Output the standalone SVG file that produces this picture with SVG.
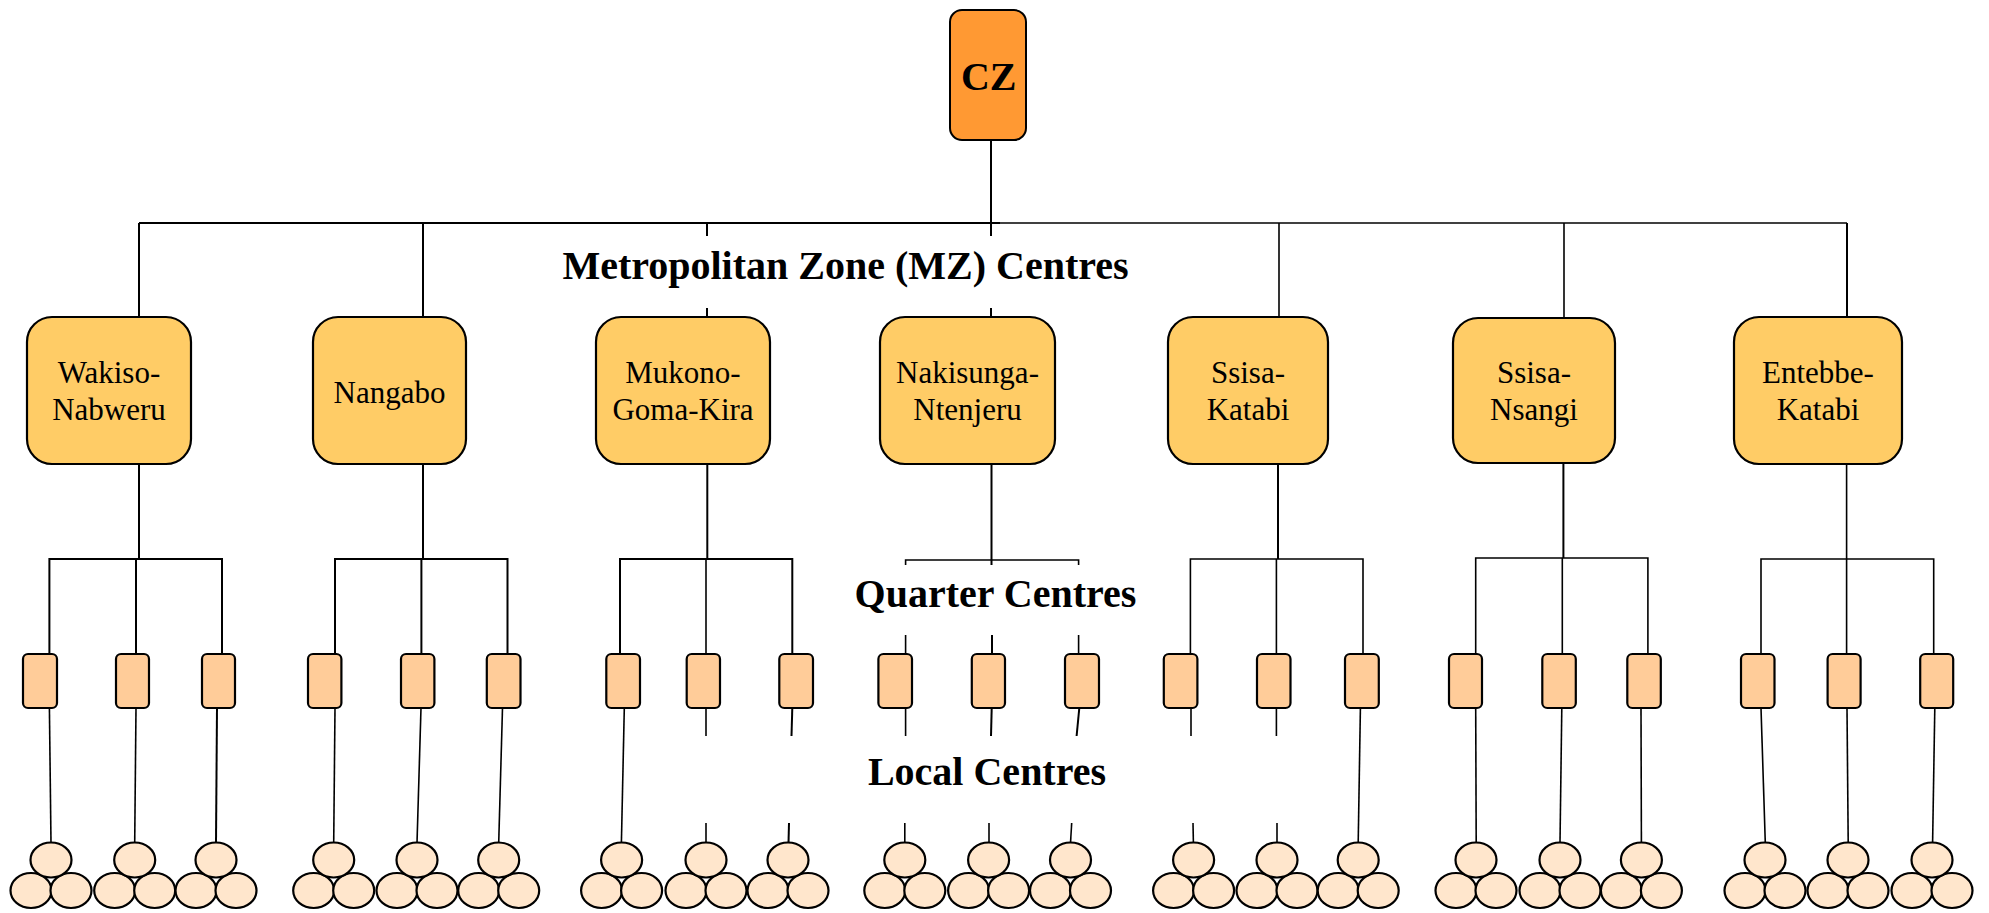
<svg xmlns="http://www.w3.org/2000/svg" width="1989" height="913" viewBox="0 0 1989 913">
<style>
.ln{stroke:#000;stroke-width:2;fill:none}
.lt{stroke:#000;stroke-width:1.6;fill:none}
.mz{fill:#FFCC66;stroke:#000;stroke-width:2.2}
.qc{fill:#FFCC99;stroke:#000;stroke-width:2.2}
.lc{fill:#FFE6CC;stroke:#000;stroke-width:2.2}
.cz{fill:#FF9933;stroke:#000;stroke-width:2}
.t{font-family:"Liberation Serif","Times New Roman",serif;font-size:31px;fill:#000;text-anchor:middle}
.h{font-family:"Liberation Serif","Times New Roman",serif;font-size:40px;font-weight:bold;fill:#000;text-anchor:middle}
</style>
<defs>
<g id="loc">
<ellipse class="lc" cx="-20" cy="890.5" rx="20.5" ry="17.5"/>
<ellipse class="lc" cx="20" cy="890.5" rx="20.5" ry="17.5"/>
<ellipse class="lc" cx="0" cy="860" rx="20.5" ry="17.5"/>
</g>
</defs>
<rect width="1989" height="913" fill="#fff"/>

<g id="connectors">
<!-- CZ to MZ -->
<line class="ln" x1="991" y1="130" x2="991" y2="236" stroke-width="2.6"/>
<line class="ln" x1="139" y1="223" x2="1000" y2="223" stroke-width="2.4"/>
<line class="lt" x1="1000" y1="223" x2="1847" y2="223"/>
<line class="ln" x1="139" y1="223" x2="139" y2="317"/>
<line class="ln" x1="423" y1="223" x2="423" y2="317"/>
<line class="ln" x1="707" y1="223" x2="707" y2="236"/>
<line class="ln" x1="707" y1="308" x2="707" y2="317"/>
<line class="ln" x1="991" y1="308" x2="991" y2="317"/>
<line class="lt" x1="1279" y1="223" x2="1279" y2="317"/>
<line class="lt" x1="1564" y1="223" x2="1564" y2="318"/>
<line class="ln" x1="1847" y1="223" x2="1847" y2="317"/>

<!-- Wakiso -->
<line class="ln" x1="139" y1="464" x2="139" y2="559"/>
<polyline class="ln" points="49.4,654 49.4,559 222,559 222,654"/>
<line class="ln" x1="136" y1="559" x2="136" y2="654"/>
<line class="lt" x1="49.4" y1="708" x2="51" y2="843"/>
<line class="lt" x1="136" y1="708" x2="134.7" y2="843"/>
<line class="ln" x1="217" y1="708" x2="216" y2="843"/>

<!-- Nangabo -->
<line class="ln" x1="423" y1="464" x2="423" y2="559"/>
<polyline class="ln" points="335,654 335,559 507.5,559 507.5,654"/>
<line class="ln" x1="421.4" y1="559" x2="421.4" y2="654"/>
<line class="lt" x1="335" y1="708" x2="333.7" y2="843"/>
<line class="lt" x1="421" y1="708" x2="417" y2="843"/>
<line class="lt" x1="502.5" y1="708" x2="498.7" y2="843"/>

<!-- Mukono -->
<line class="ln" x1="707.3" y1="464" x2="707.3" y2="559"/>
<polyline class="ln" points="620,654 620,559 792.3,559 792.3,654"/>
<line class="lt" x1="706" y1="559" x2="706" y2="654"/>
<line class="lt" x1="624.3" y1="708" x2="621.4" y2="843"/>
<line class="lt" x1="706" y1="708" x2="706" y2="736"/>
<line class="lt" x1="706" y1="823" x2="706" y2="843"/>
<line class="ln" x1="792.3" y1="708" x2="791.5" y2="736"/>
<line class="ln" x1="789" y1="823" x2="788.5" y2="843"/>

<!-- Nakisunga -->
<line class="ln" x1="991.5" y1="464" x2="991.5" y2="565" stroke-width="2.6"/>
<polyline class="lt" points="905.6,565 905.6,560 1078.6,560 1078.6,565"/>
<line class="lt" x1="905.6" y1="635" x2="905.6" y2="654"/>
<line class="ln" x1="992" y1="635" x2="992" y2="654"/>
<line class="lt" x1="1078.6" y1="635" x2="1078.6" y2="654"/>
<line class="lt" x1="905.6" y1="708" x2="905.6" y2="736"/>
<line class="ln" x1="991.7" y1="708" x2="991" y2="736"/>
<line class="ln" x1="1079.3" y1="708" x2="1076.6" y2="736"/>
<line class="lt" x1="904.8" y1="823" x2="904.8" y2="843"/>
<line class="lt" x1="989" y1="823" x2="989" y2="843"/>
<line class="lt" x1="1071.7" y1="823" x2="1070.5" y2="843"/>

<!-- Ssisa-Katabi -->
<line class="ln" x1="1278" y1="464" x2="1278" y2="559" stroke-width="2.4"/>
<polyline class="lt" points="1190.4,654 1190.4,559 1363,559 1363,654"/>
<line class="lt" x1="1276.4" y1="559" x2="1276.4" y2="654"/>
<line class="lt" x1="1191" y1="708" x2="1191" y2="736"/>
<line class="lt" x1="1276.4" y1="708" x2="1276.4" y2="736"/>
<line class="lt" x1="1193" y1="823" x2="1193.4" y2="843"/>
<line class="lt" x1="1277" y1="823" x2="1277" y2="843"/>
<line class="lt" x1="1360.4" y1="708" x2="1358.2" y2="843"/>

<!-- Ssisa-Nsangi -->
<line class="ln" x1="1563.4" y1="464" x2="1563.4" y2="558" stroke-width="2.4"/>
<polyline class="lt" points="1475.7,654 1475.7,558 1647.9,558 1647.9,654"/>
<line class="lt" x1="1562.3" y1="558" x2="1562.3" y2="654"/>
<line class="lt" x1="1475.7" y1="708" x2="1476.2" y2="843"/>
<line class="lt" x1="1561.8" y1="708" x2="1560" y2="843"/>
<line class="lt" x1="1641" y1="708" x2="1641.4" y2="843"/>

<!-- Entebbe -->
<line class="lt" x1="1846.6" y1="464" x2="1846.6" y2="559"/>
<polyline class="lt" points="1761,654 1761,559 1933.7,559 1933.7,654"/>
<line class="lt" x1="1846.6" y1="559" x2="1846.6" y2="654"/>
<line class="lt" x1="1761" y1="708" x2="1765.3" y2="843"/>
<line class="lt" x1="1847" y1="708" x2="1848.2" y2="843"/>
<line class="lt" x1="1934.8" y1="708" x2="1932.6" y2="843"/>
</g>

<g id="labels">
<text class="h" x="845.5" y="279">Metropolitan Zone (MZ) Centres</text>
<text class="h" x="995.5" y="607">Quarter Centres</text>
<text class="h" x="987" y="785">Local Centres</text>
</g>

<g id="cz">
<rect class="cz" x="950" y="10" width="76" height="130" rx="12"/>
<text class="h" x="988.7" y="90" font-size="39">CZ</text>
</g>

<g id="mz-wakiso">
<rect class="mz" x="27" y="317" width="164" height="147" rx="25"/>
<text class="t" x="109" y="383">Wakiso-</text>
<text class="t" x="109" y="420">Nabweru</text>
</g>
<g id="mz-nangabo">
<rect class="mz" x="313" y="317" width="153" height="147" rx="25"/>
<text class="t" x="389.5" y="402.5">Nangabo</text>
</g>
<g id="mz-mukono">
<rect class="mz" x="596" y="317" width="174" height="147" rx="25"/>
<text class="t" x="683" y="383">Mukono-</text>
<text class="t" x="683" y="420">Goma-Kira</text>
</g>
<g id="mz-nakisunga">
<rect class="mz" x="880" y="317" width="175" height="147" rx="25"/>
<text class="t" x="967.5" y="383">Nakisunga-</text>
<text class="t" x="967.5" y="420">Ntenjeru</text>
</g>
<g id="mz-ssisa-katabi">
<rect class="mz" x="1168" y="317" width="160" height="147" rx="25"/>
<text class="t" x="1248" y="383">Ssisa-</text>
<text class="t" x="1248" y="420">Katabi</text>
</g>
<g id="mz-ssisa-nsangi">
<rect class="mz" x="1453" y="318" width="162" height="145" rx="25"/>
<text class="t" x="1534" y="383">Ssisa-</text>
<text class="t" x="1534" y="420">Nsangi</text>
</g>
<g id="mz-entebbe">
<rect class="mz" x="1734" y="317" width="168" height="147" rx="25"/>
<text class="t" x="1818" y="383">Entebbe-</text>
<text class="t" x="1818" y="420">Katabi</text>
</g>

<g id="quarter-centres">
<rect class="qc" x="23" y="654" width="34" height="54" rx="5"/>
<rect class="qc" x="116" y="654" width="33" height="54" rx="5"/>
<rect class="qc" x="202" y="654" width="33" height="54" rx="5"/>
<rect class="qc" x="308" y="654" width="33.4" height="54" rx="5"/>
<rect class="qc" x="401" y="654" width="33.4" height="54" rx="5"/>
<rect class="qc" x="486.8" y="654" width="33.7" height="54" rx="5"/>
<rect class="qc" x="606.3" y="654" width="33.7" height="54" rx="5"/>
<rect class="qc" x="686.7" y="654" width="33.3" height="54" rx="5"/>
<rect class="qc" x="779.3" y="654" width="33.7" height="54" rx="5"/>
<rect class="qc" x="878.4" y="654" width="33.6" height="54" rx="5"/>
<rect class="qc" x="971.8" y="654" width="33.2" height="54" rx="5"/>
<rect class="qc" x="1065" y="654" width="34" height="54" rx="5"/>
<rect class="qc" x="1163.8" y="654" width="33.6" height="54" rx="5"/>
<rect class="qc" x="1257" y="654" width="33.5" height="54" rx="5"/>
<rect class="qc" x="1345" y="654" width="33.8" height="54" rx="5"/>
<rect class="qc" x="1449" y="654" width="33" height="54" rx="5"/>
<rect class="qc" x="1542.3" y="654" width="33.5" height="54" rx="5"/>
<rect class="qc" x="1627.3" y="654" width="33.5" height="54" rx="5"/>
<rect class="qc" x="1741" y="654" width="33.5" height="54" rx="5"/>
<rect class="qc" x="1827.6" y="654" width="33" height="54" rx="5"/>
<rect class="qc" x="1920.2" y="654" width="33" height="54" rx="5"/>
</g>

<g id="local-centres">
<use href="#loc" x="51"/>
<use href="#loc" x="134.7"/>
<use href="#loc" x="216"/>
<use href="#loc" x="333.7"/>
<use href="#loc" x="417"/>
<use href="#loc" x="498.7"/>
<use href="#loc" x="621.6"/>
<use href="#loc" x="706"/>
<use href="#loc" x="788"/>
<use href="#loc" x="904.8"/>
<use href="#loc" x="988.6"/>
<use href="#loc" x="1070.5"/>
<use href="#loc" x="1193.6"/>
<use href="#loc" x="1277"/>
<use href="#loc" x="1358.2"/>
<use href="#loc" x="1476"/>
<use href="#loc" x="1560"/>
<use href="#loc" x="1641.4"/>
<use href="#loc" x="1765"/>
<use href="#loc" x="1848"/>
<use href="#loc" x="1932"/>
</g>
</svg>
